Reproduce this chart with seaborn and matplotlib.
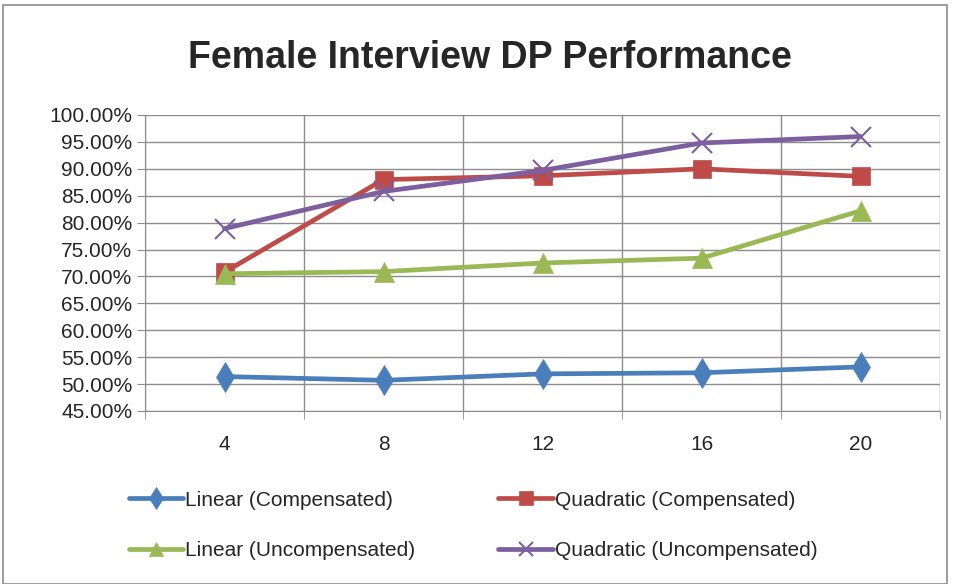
import matplotlib
matplotlib.use("Agg")
import matplotlib.pyplot as plt
import seaborn as sns
import pandas as pd
from matplotlib.ticker import FuncFormatter, FixedLocator

# data
x_labels = ["4", "8", "12", "16", "20"]
linear_comp = [51.4, 50.7, 51.9, 52.1, 53.2]
quad_comp = [70.8, 88.0, 88.7, 90.0, 88.6]
linear_uncomp = [70.5, 70.9, 72.5, 73.4, 82.2]
quad_uncomp = [78.9, 85.8, 89.7, 94.8, 96.0]

series_names = ["Linear (Compensated)", "Quadratic (Compensated)",
                "Linear (Uncompensated)", "Quadratic (Uncompensated)"]
series_values = [linear_comp, quad_comp, linear_uncomp, quad_uncomp]
colors = ["#4A7EBB", "#BE4B48", "#98B954", "#7D5FA0"]
markers = ["d", "s", "^", "x"]
msizes = [15, 13, 14, 14]

sns.set_style("white")
plt.rcParams["font.family"] = ["Liberation Sans", "DejaVu Sans"]

fig = plt.figure(figsize=(9.58, 5.84), dpi=100)
ax = fig.add_axes([145 / 958, 1 - 411 / 584, 795 / 958, 296 / 584])

pos = list(range(len(x_labels)))
for name, vals, c, m, ms in zip(series_names, series_values, colors, markers, msizes):
    df = pd.DataFrame({"x": pos, "y": vals})
    sns.lineplot(data=df, x="x", y="y", ax=ax, color=c, marker=m, markersize=ms,
                 linewidth=3.4, markeredgecolor=c, markeredgewidth=1.5 if m == "x" else 0.5,
                 label=name)

ax.set_xlim(-0.5, len(x_labels) - 0.5)
ax.set_ylim(45, 100)
ax.yaxis.set_major_locator(FixedLocator([45 + 5 * i for i in range(12)]))
ax.yaxis.set_major_formatter(FuncFormatter(lambda v, p: f"{v:.2f}%"))
ax.set_xticks(pos)
ax.set_xticklabels(x_labels)
ax.set_xticks([p - 0.5 for p in pos] + [len(pos) - 0.5], minor=True)
ax.grid(True, axis="y", which="major", color="#8c8c8c", linewidth=1)
ax.grid(True, axis="x", which="minor", color="#8c8c8c", linewidth=1)
ax.set_axisbelow(True)
ax.tick_params(axis="x", which="major", length=0, labelsize=15, pad=17)
ax.tick_params(axis="x", which="minor", length=6, color="#8c8c8c", direction="out")
ax.tick_params(axis="y", length=6, color="#8c8c8c", direction="out", labelsize=15, pad=3)
ax.tick_params(bottom=True, left=True, which="both")
for s in ["top", "right"]:
    ax.spines[s].set_visible(False)
for s in ["left", "bottom"]:
    ax.spines[s].set_color("#8c8c8c")
ax.set_xlabel("")
ax.set_ylabel("")

# Excel fills the legend row by row, matplotlib column by column
h, l = ax.get_legend_handles_labels()
order = [0, 2, 1, 3]
ax.legend([h[i] for i in order], [l[i] for i in order],
          loc="upper left", bbox_to_anchor=(110 / 958, 1 - 472 / 584),
          bbox_transform=fig.transFigure, ncol=2, frameon=False,
          fontsize=15, handlelength=2.6, handletextpad=0.1, columnspacing=4.0,
          labelspacing=1.5, markerscale=0.75)

fig.text(490 / 958, 1 - 58 / 584, "Female Interview DP Performance", ha="center",
         va="center", fontsize=27, fontweight="bold")

border = plt.Rectangle((3 / 958, 0.0), 944 / 958, 1 - 5 / 584, transform=fig.transFigure,
                       fill=False, edgecolor="#8c8c8c", linewidth=1.2)
fig.patches.append(border)

fig.savefig("out.png", dpi=100)
